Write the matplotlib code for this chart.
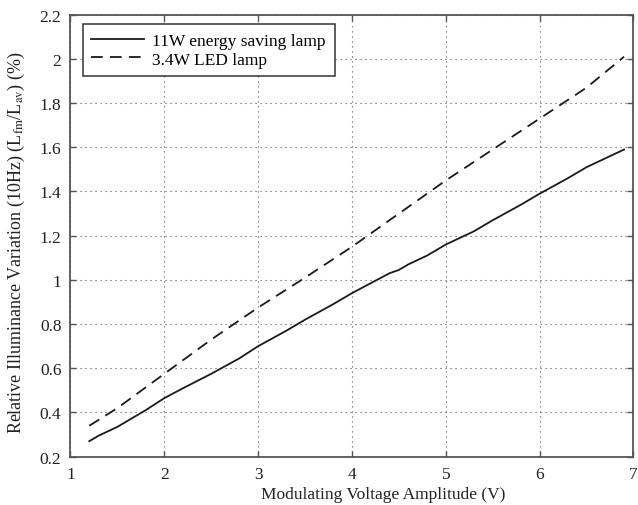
import matplotlib
matplotlib.use("Agg")
import matplotlib.pyplot as plt

plt.rcParams['font.family'] = ['Liberation Serif', 'DejaVu Serif']
plt.rcParams['mathtext.fontset'] = 'stix'

# Data
x_cfl = [1.2, 1.3, 1.5, 1.8, 2.0, 2.2, 2.5, 2.8, 3.0, 3.3, 3.5, 3.8, 4.0, 4.2, 4.4, 4.5, 4.6, 4.8, 5.0, 5.3, 5.5, 5.8, 6.0, 6.3, 6.5, 6.7, 6.9]
y_cfl = [0.27, 0.295, 0.335, 0.41, 0.465, 0.51, 0.575, 0.645, 0.70, 0.77, 0.82, 0.89, 0.94, 0.985, 1.03, 1.045, 1.07, 1.11, 1.16, 1.22, 1.27, 1.34, 1.39, 1.46, 1.51, 1.55, 1.59]

x_led = [1.2, 1.5, 2.0, 2.5, 3.0, 3.5, 4.0, 4.5, 5.0, 5.5, 6.0, 6.5, 6.9]
y_led = [0.34, 0.42, 0.575, 0.73, 0.875, 1.01, 1.15, 1.30, 1.45, 1.59, 1.73, 1.87, 2.01]

labels = ['11W energy saving lamp', '3.4W LED lamp']
x_ticks = [1, 2, 3, 4, 5, 6, 7]
y_ticks = [0.2, 0.4, 0.6, 0.8, 1.0, 1.2, 1.4, 1.6, 1.8, 2.0, 2.2]
y_tick_labels = ['0.2', '0.4', '0.6', '0.8', '1', '1.2', '1.4', '1.6', '1.8', '2', '2.2']

FS = 12.5
fig = plt.figure(figsize=(6.38, 5.06), dpi=100)
ax = fig.add_axes([0.1105, 0.0955, 0.8824, 0.8735])

ax.plot(x_cfl, y_cfl, color='#1a1a1a', lw=1.3, label=labels[0])
ln, = ax.plot(x_led, y_led, color='#1a1a1a', lw=1.3, label=labels[1])
ln.set_dashes([6.5, 4])

ax.set_xlim(1, 7)
ax.set_ylim(0.2, 2.2)
ax.set_xticks(x_ticks)
ax.set_yticks(y_ticks)
ax.set_yticklabels(y_tick_labels)
ax.tick_params(direction='in', top=True, right=True, labelsize=FS, length=4, width=1.0,
               color='#555555', labelcolor='#222222', pad=6.5)
ax.grid(True, linestyle=(0, (1, 3.5)), color='#555555', lw=0.8)
for s in ax.spines.values():
    s.set_color('#555555')
    s.set_linewidth(1.3)

ax.set_xlabel('Modulating Voltage Amplitude (V)', fontsize=FS, color='#222222')
ax.xaxis.set_label_coords(0.555, -0.066)
ax.set_ylabel(r'Relative Illuminance Variation (10Hz) (L$_{\mathrm{fm}}$/L$_{\mathrm{av}}$) (%)',
              fontsize=13, color='#222222')
ax.yaxis.set_label_coords(-0.078, 0.486)

leg = ax.legend(loc='upper left', bbox_to_anchor=(0.0217, 0.979), fontsize=FS, fancybox=False,
                framealpha=1, edgecolor='#333333', handlelength=3.05, handletextpad=0.46,
                borderpad=0.5, labelspacing=0.15, borderaxespad=0)
leg.get_frame().set_linewidth(1.1)

fig.savefig('out.png', dpi=100)
